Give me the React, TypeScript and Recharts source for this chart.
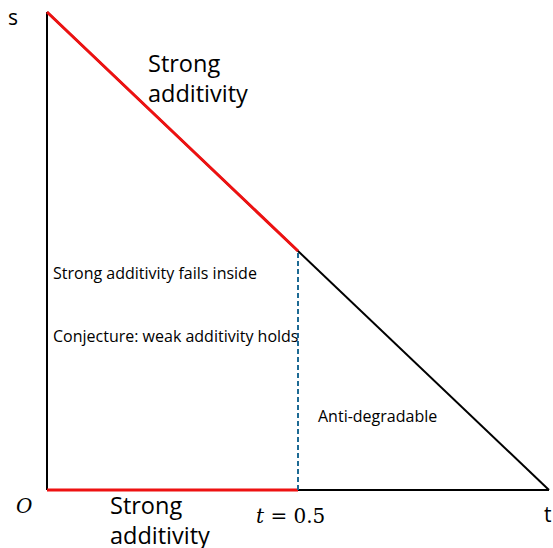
import { ComposedChart, Line, XAxis, YAxis } from 'recharts'

// region boundaries in the (t, s) plane
const tAxisT = [0, 1]
const tAxisS = [0, 0]
const sAxisT = [0, 0]
const sAxisS = [0, 1]
const boundaryT = [0, 1]
const boundaryS = [1, 0]
const strongDiagT = [0, 0.5]
const strongDiagS = [1, 0.5]
const strongBaseT = [0, 0.5]
const strongBaseS = [0, 0]
const cutT = [0.5, 0.5]
const cutS = [0, 0.5]

const toPoints = (ts: number[], ss: number[]) => ts.map((t, i) => ({ t, s: ss[i] }))

const W = 553
const H = 548
const sans = '"Open Sans", sans-serif'
const serif = '"DejaVu Serif", serif'

export default function App() {
  return (
    <div style={{ position: 'absolute', left: 0, top: 0, width: W, height: H, background: '#fff' }}>
      <ComposedChart width={W} height={H} margin={{ top: 12, right: 4, bottom: 58, left: 47 }}>
        <XAxis type="number" dataKey="t" domain={[0, 1]} hide />
        <YAxis type="number" dataKey="s" domain={[0, 1]} hide />
        <Line
          data={toPoints(sAxisT, sAxisS)}
          dataKey="s"
          stroke="#000"
          strokeWidth={2}
          dot={false}
          isAnimationActive={false}
        />
        <Line
          data={toPoints(tAxisT, tAxisS)}
          dataKey="s"
          stroke="#000"
          strokeWidth={2}
          dot={false}
          isAnimationActive={false}
        />
        <Line
          data={toPoints(boundaryT, boundaryS)}
          dataKey="s"
          stroke="#000"
          strokeWidth={2}
          dot={false}
          isAnimationActive={false}
        />
        <Line
          data={toPoints(strongDiagT, strongDiagS)}
          dataKey="s"
          stroke="#ee1111"
          strokeWidth={3}
          dot={false}
          isAnimationActive={false}
        />
        <Line
          data={toPoints(strongBaseT, strongBaseS)}
          dataKey="s"
          stroke="#ee1111"
          strokeWidth={3}
          dot={false}
          isAnimationActive={false}
        />
        <Line
          data={toPoints(cutT, cutS)}
          dataKey="s"
          stroke="#1d6a94"
          strokeWidth={2}
          strokeDasharray="5 3"
          dot={false}
          isAnimationActive={false}
        />
      </ComposedChart>
      <svg width={W} height={H} style={{ position: 'absolute', left: 0, top: 0, pointerEvents: 'none' }}>
        <text x={8} y={25} fontFamily={sans} fontSize={21} fill="#000">s</text>
        <text x={544} y={522} fontFamily={sans} fontSize={21} fill="#000">t</text>
        <text x={16} y={513} fontFamily={serif} fontStyle="italic" fontSize={20} fill="#000">O</text>

        <text x={148} y={72} fontFamily={sans} fontSize={23.5} fill="#000">Strong</text>
        <text x={148} y={102} fontFamily={sans} fontSize={23.5} fill="#000">additivity</text>

        <text x={110} y={514} fontFamily={sans} fontSize={23.5} fill="#000">Strong</text>
        <text x={110} y={544} fontFamily={sans} fontSize={23.5} fill="#000">additivity</text>

        <text x={53} y={279} fontFamily={sans} fontSize={16} fill="#000">Strong additivity fails inside</text>
        <text x={53} y={342} fontFamily={sans} fontSize={16} fill="#000">Conjecture: weak additivity holds</text>
        <text x={318} y={422} fontFamily={sans} fontSize={16} fill="#000">Anti-degradable</text>

        <text x={256} y={523} fontFamily={serif} fontSize={20} fill="#000">
          <tspan fontStyle="italic">t</tspan> = 0.5
        </text>
      </svg>
    </div>
  )
}
